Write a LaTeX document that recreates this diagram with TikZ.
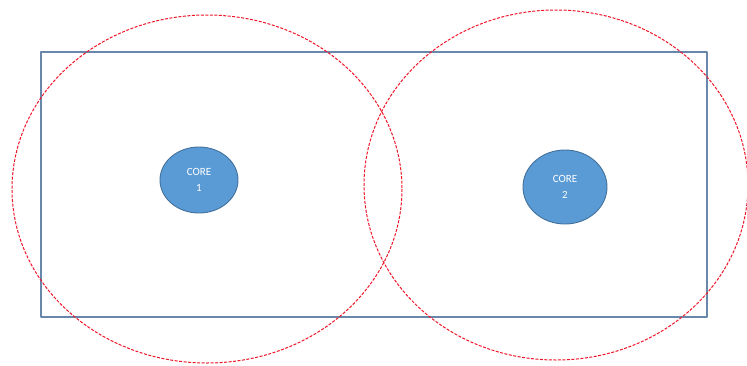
\documentclass[tikz,border=0pt]{standalone}
\usepackage{fontspec}
\setmainfont{Carlito}
\definecolor{boxline}{RGB}{105,135,170}
\definecolor{corefill}{RGB}{91,155,213}
\definecolor{coreline}{RGB}{65,113,156}
\definecolor{rangered}{RGB}{240,20,40}
\tikzset{
  core/.style={ellipse, fill=corefill, draw=coreline, line width=0.9pt,
    text=white, font=\fontsize{11}{16}\selectfont, align=center, inner sep=0pt},
  coverage/.style={draw=rangered, line width=1pt, dash pattern=on 3pt off 1.5pt}
}
\usetikzlibrary{shapes.geometric}
\begin{document}
\begin{tikzpicture}[x=1pt, y=-1pt, line join=round]
				\useasboundingbox (0,0) rectangle (747,365);
				% 1. Khung bao
				\draw[boxline, line width=1.3pt] (41,52) rectangle (707,317);
				
				% 2. Hai lõi
				\node[core, minimum width=78pt, minimum height=66pt] (core1) at (199,180) {CORE\\1};
				\node[core, minimum width=84pt, minimum height=74pt] (core2) at (565,187) {CORE\\2};
				
				% 3. Vùng phủ (nét đứt)
				\draw[coverage] (core1) ++(8,9) ellipse [x radius=195, y radius=174];
				\draw[coverage] (core2) ++(-9,-2) ellipse [x radius=192, y radius=175];
				
\end{tikzpicture}
\end{document}
